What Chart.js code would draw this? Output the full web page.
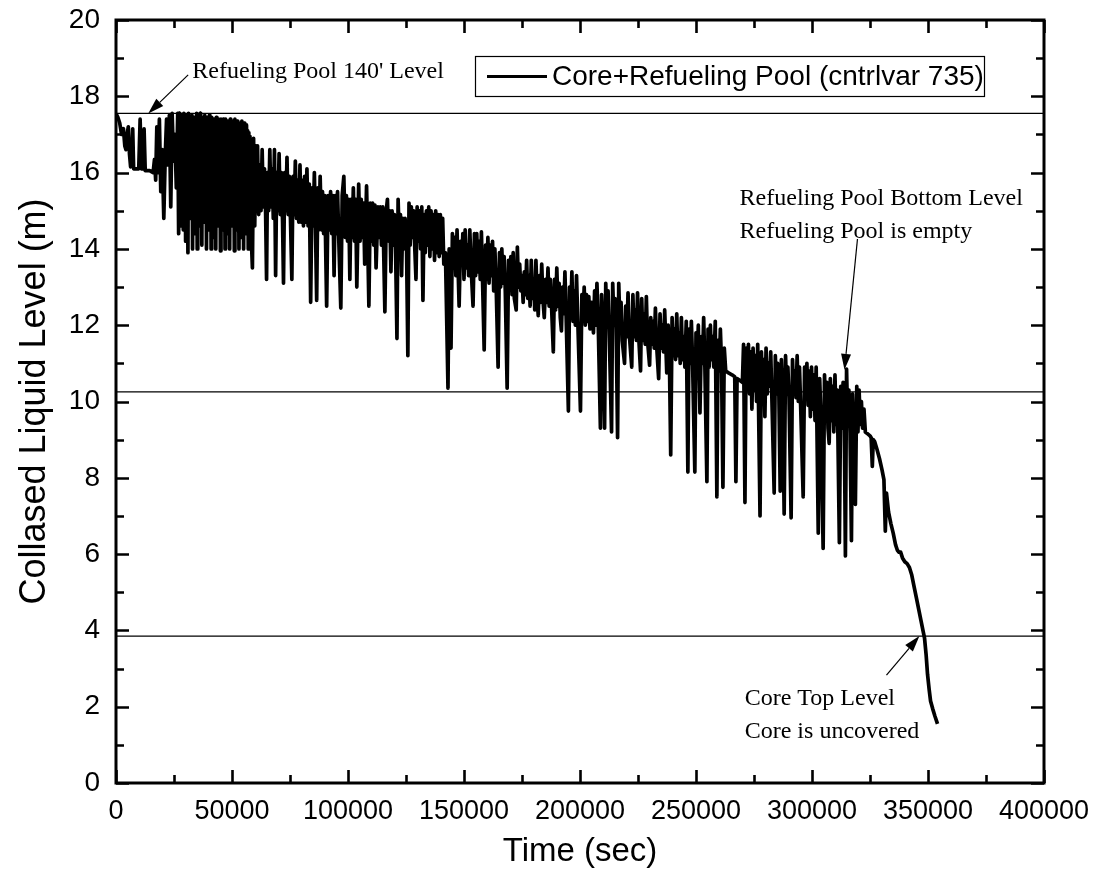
<!DOCTYPE html>
<html><head><meta charset="utf-8">
<script src="https://cdn.jsdelivr.net/npm/chart.js@4/dist/chart.umd.min.js"></script>
<style>html,body{margin:0;padding:0;background:#fff;}canvas{display:block;}</style>
</head><body>
<canvas id="c" width="1095" height="888"></canvas>
<script>
// ---------------- DATA ----------------
const seriesLabel = 'Core+Refueling Pool (cntrlvar 735)';
const xTitle = 'Time (sec)';
const yTitle = 'Collased Liquid Level (m)';
const xTickValues = [0, 50000, 100000, 150000, 200000, 250000, 300000, 350000, 400000];
const xMinorTicks = [25000, 75000, 125000, 175000, 225000, 275000, 325000, 375000];
const yTickValues = [0, 2, 4, 6, 8, 10, 12, 14, 16, 18, 20];
const yMinorTicks = [1, 3, 5, 7, 9, 11, 13, 15, 17, 19];
const refLevels = [17.55, 10.25, 3.85];

const timeSec = [
0,800,1600,2400,3200,3800,4300,4800,5300,5800,6300,6800,7200,7600,9800,10400,10900,11600,12100,12600,14500,16000,16600,17100,17600,18100,18700,19300,19900,20600,21200,21800,22400,23000,23600,24200,24800,25400,26000,26600,
27000,27250,27500,27750,28000,28250,28500,28750,29000,29250,29500,29750,30000,30250,30500,30750,31000,31250,31500,31750,32000,32250,32500,32750,33000,33250,33500,33750,34000,34250,34500,34750,35000,35250,35500,35750,36000,36250,36500,36750,37000,37250,37500,37750,38000,38250,38500,38750,39000,39250,39500,39750,40000,40250,40500,40750,41000,41250,41500,41750,42000,42250,42500,42750,43000,43250,43500,43750,44000,44250,44500,44750,45000,45250,45500,45750,46000,46250,46500,46750,47000,47250,47500,47750,48000,48250,48500,48750,49000,49250,49500,49750,50000,50250,50500,50750,51000,51250,51500,51750,52000,52250,52500,52750,53000,53250,53500,53750,54000,54250,54500,54750,55000,55250,55500,55750,56000,56250,56500,56750,57000,57250,57500,57750,58000,
58800,59300,59800,60300,60800,
61000,61500,62000,62500,63000,63500,64000,64500,64900,65300,65800,66300,66800,67300,67800,68300,68800,69300,69800,70300,70800,71300,71800,72200,72700,73200,73700,74200,74700,75200,75800,76300,76800,77300,77800,78300,78800,79300,79800,80300,80800,81300,81800,82300,82800,83300,83900,84500,85000,85500,86000,86500,87000,87500,88000,88500,89000,89500,90000,90800,91400,92000,
92500,93000,93500,94000,94500,95000,95500,96000,96900,97500,98200,98800,99300,99800,100300,100800,101300,101800,102300,102800,103300,103800,104600,105200,105700,106200,106700,107200,108000,108500,109000,109600,110100,110600,111100,111600,112100,112900,113400,113900,114400,115000,115900,116500,117000,117500,118000,118500,119000,119500,120000,120500,121100,121600,122100,122600,123100,123600,124100,124600,125200,125800,126300,126800,
127300,127800,128300,128800,129300,129800,130300,130800,131300,131800,132300,132800,133300,133800,134300,134800,135300,135800,136300,136800,137300,137800,138300,138800,139300,139800,140300,140800,141300,142000,143100,143600,144400,145000,145500,146000,146500,147000,147900,148500,149000,149500,150000,150500,151000,151500,152000,152500,153000,153900,154500,155000,155500,156000,156500,157000,157500,158700,159300,159800,160300,160800,161300,161800,162300,162800,163300,163800,164700,165300,165800,166300,166800,167300,167800,168600,169200,169700,170200,170700,171200,171700,172500,173000,173500,174000,174500,
175000,175500,176000,176500,177000,177500,178000,178500,179000,179500,180000,180500,181000,181500,182000,182500,183000,183500,184000,184600,185200,185700,186200,186700,187200,187800,188500,189000,189500,190000,190500,191000,191500,192000,192500,193000,193500,194000,195000,195500,196000,196500,197000,197500,198000,198500,199000,200200,200800,201300,201800,202300,202800,203300,203800,204300,205000,
205800,206300,206800,207300,207800,208800,209300,209800,210600,211100,211600,212100,212600,213600,214100,214600,215100,215600,216200,216700,217200,217700,218200,219200,219700,220200,220700,221200,222300,222800,223300,223800,224300,224800,225300,226100,226600,227100,227600,228100,228600,229100,230000,230500,231000,231500,232000,232500,233000,233900,234500,235000,235500,236000,236500,237400,238000,238500,239100,239700,240200,
240700,241200,241700,242200,242700,243200,243700,244200,244700,245200,245800,246500,247000,247500,248000,248500,249500,250000,250500,251000,251700,252300,252800,253300,253800,254700,255200,255700,256200,256700,257200,257700,258300,259000,259500,260000,260500,261000,261600,262200,
262800,264000,265500,266700,267200,267700,269000,270000,270500,271100,
271600,272100,272600,273100,273600,274100,274600,275100,275600,276100,276600,277600,278200,278700,279200,279700,280200,280700,281200,281700,282200,282700,283700,284200,284700,285200,285700,286300,286800,287300,288000,288600,289100,289600,290100,291000,291600,292100,292600,293100,293600,294100,294600,295100,296200,296800,
297300,297800,298300,298800,299300,299800,300300,300800,301300,301800,302700,303300,303800,304800,305400,305900,306400,306900,307400,307900,308400,308900,309400,309900,310400,310900,311800,312400,312900,313400,313900,314400,314900,315400,315900,316400,317000,317500,318000,318700,319300,319800,320300,320800,321300,
321800,322400,323000,324000,325000,325500,326000,326400,327000,328000,329100,330200,331000,331600,332100,333000,334000,335000,336000,336800,337500,338200,339000,340000,341000,342000,343000,344000,345000,346000,347000,348000,348500,349200,349800,350500,351100,352000,353000,354100
];

const level = [
17.55,17.45,17.3,17.0,17.15,16.7,16.6,17.0,17.2,16.5,16.15,16.2,17.15,16.1,16.1,17.4,16.1,16.1,17.15,16.05,16.05,16.0,16.35,15.8,17.2,16.0,17.4,15.5,16.6,14.8,16.4,17.4,16.2,17.5,15.1,17.55,16.3,17.0,15.6,17.55,
14.4,17.55,15.2,17.3, 14.6,17.5,15.8,17.2, 14.5,17.55,15.4,17.35, 14.2,17.5,15.9,17.2, 13.9,17.55,15.3,17.4, 14.8,17.3,15.7,17.5, 14.0,17.2,15.5,17.45, 14.4,17.3,15.9,17.55, 14.0,17.25,15.2,17.4, 14.6,17.55,15.8,17.3, 14.1,17.45,15.4,17.2, 14.7,17.5,15.9,17.3, 14.0,17.45,15.3,17.35, 14.5,17.5,15.7,17.25, 14.0,17.45,15.5,17.3, 14.3,17.4,15.9,17.3, 14.0,17.45,15.4,17.25, 14.6,17.4,15.8,17.35, 13.95,17.4,15.3,17.3, 14.5,17.4,15.9,17.25, 14.0,17.4,15.5,17.3, 14.4,17.35,15.8,17.3, 14.0,17.4,15.3,17.25, 14.6,17.35,15.9,17.3, 13.95,17.4,15.4,17.25, 14.5,17.35,15.8,17.3, 14.0,17.3,15.5,17.25, 14.3,17.35,15.9,17.2, 14.0,17.3,15.6,17.2, 14.4,17.25,15.7,17.1, 14.0,17.05,15.5,16.95, 14.8,
13.5,16.9,14.6,16.7,15.0,
16.7,14.9,16.2,15.0,16.6,15.1,16.1,14.9,13.2,16.0,15.0,16.6,15.1,16.1,14.8,16.6,13.3,16.0,15.0,16.5,14.9,16.0,14.7,13.1,16.0,15.0,16.4,14.9,15.9,14.8,13.2,15.9,14.9,16.3,14.8,15.8,14.7,16.2,14.7,15.8,14.6,15.9,14.7,16.1,14.6,15.7,12.6,15.6,14.6,16.0,14.5,12.65,15.6,14.5,15.9,14.5,15.5,14.4,15.4,12.5,15.4,14.5,
15.5,14.4,15.4,13.3,15.4,14.4,15.5,14.3,12.45,15.4,15.9,14.3,15.4,14.2,15.3,13.2,15.3,14.3,15.6,14.2,15.3,13.0,15.7,14.2,15.3,14.3,15.2,13.6,15.65,14.2,12.5,15.2,14.2,15.2,14.1,15.15,13.5,15.1,14.3,15.1,14.1,15.1,12.35,15.0,15.3,14.2,15.0,13.4,15.0,14.1,14.9,14.0,11.65,15.3,14.2,14.9,13.3,14.8,14.0,14.8,14.2,11.2,15.2,14.1,
15.1,14.3,15.0,14.0,13.2,15.1,14.2,15.0,14.0,15.1,12.65,14.9,13.9,15.0,14.1,15.1,13.8,15.0,14.0,14.9,13.7,15.0,13.9,14.9,13.8,14.9,13.9,14.8,13.6,13.9,10.35,14.0,11.4,14.4,13.5,14.3,13.3,14.5,12.5,14.2,13.6,14.4,13.2,14.5,13.5,14.1,13.3,14.5,13.6,12.5,14.4,13.3,14.4,13.4,14.2,13.2,14.45,11.35,14.1,13.2,14.3,13.1,14.1,13.3,14.2,12.9,14.0,13.2,10.9,13.9,13.0,14.0,13.1,13.8,12.9,10.35,13.7,13.0,13.8,12.8,13.9,12.7,12.4,14.05,13.0,13.6,12.9,
13.3,12.6,13.4,12.8,13.7,12.7,13.3,12.5,13.7,12.7,13.2,12.4,13.7,12.8,12.25,13.3,12.6,13.6,12.7,12.2,13.2,12.6,13.5,12.5,13.2,12.4,11.3,13.2,12.4,13.5,12.5,13.1,12.2,11.85,13.0,12.3,13.4,12.3,9.75,13.0,12.2,13.4,12.1,12.9,12.0,13.3,12.2,9.75,12.8,12.1,13.0,12.0,12.8,12.1,12.75,11.9,12.6,
11.8,12.9,12.0,13.1,12.2,9.3,12.8,12.1,9.3,13.1,12.0,12.9,11.8,9.2,13.1,12.1,12.7,11.9,9.05,13.1,12.0,12.6,11.6,11.0,12.5,11.7,12.85,11.8,10.9,12.8,11.7,12.4,11.6,12.85,11.7,10.8,12.7,11.6,12.3,11.5,12.75,11.6,10.95,12.2,11.5,12.1,11.4,12.45,11.5,10.6,12.3,11.4,12.0,11.3,12.4,10.75,12.0,11.3,8.6,12.2,11.2,
11.9,11.1,12.3,11.2,11.8,11.0,12.2,11.1,11.7,10.9,12.1,8.15,11.9,11.0,12.1,11.1,8.15,11.8,11.0,12.0,9.7,11.7,11.0,12.2,11.0,7.9,11.9,10.9,12.0,11.1,11.7,10.9,12.1,7.5,11.6,10.8,11.9,11.0,7.75,11.4,
10.8,10.75,10.7,10.65,7.9,10.6,10.55,10.5,11.5,7.35,
11.4,10.4,11.5,10.2,11.3,9.8,11.4,10.3,11.2,10.0,11.5,7.0,11.3,10.3,11.1,9.6,11.4,10.2,11.0,10.4,11.3,10.1,7.6,11.2,10.2,11.0,10.3,7.65,11.1,10.3,7.05,11.2,10.2,10.9,10.1,6.95,11.1,10.2,10.8,10.1,11.2,10.0,10.9,9.9,7.5,10.9,
10.1,11.0,9.9,10.8,9.6,10.9,9.8,10.7,9.5,10.9,6.55,10.6,9.7,6.15,10.7,9.5,10.5,9.3,8.9,10.6,9.5,10.4,9.2,10.7,9.4,10.3,6.3,10.4,9.3,10.5,9.6,5.95,10.85,9.4,10.3,9.2,6.35,10.2,9.3,7.3,10.4,9.2,10.3,9.4,10.0,
9.3,9.8,9.2,9.15,9.1,9.05,8.3,9.0,8.95,8.75,8.5,8.2,7.95,6.6,7.6,7.1,6.8,6.55,6.25,6.1,6.05,6.05,5.9,5.8,5.75,5.65,5.45,5.15,4.85,4.55,4.25,3.95,3.8,3.35,2.85,2.45,2.15,1.95,1.75,1.55
];

// annotation texts (placed in data coordinates)
const notes = [
  { lines: ["Refueling Pool 140' Level"], at: [32900, 18.48], tail: [31100, 18.56], tip: [13900, 17.55] },
  { lines: ["Refueling Pool Bottom Level", "Refueling Pool is empty"], at: [268800, 15.15], tail: [319600, 14.26], tip: [314000, 10.83] },
  { lines: ["Core Top Level", "Core is uncovered"], at: [271000, 2.04], tail: [332100, 2.83], tip: [346300, 3.85] }
];

// ---------------- CHART ----------------
if (timeSec.length !== level.length) console.error('length mismatch', timeSec.length, level.length);
const mainData = timeSec.map((t, i) => ({ x: t, y: level[i] }));
const refSets = refLevels.map(v => ({
  label: 'ref', data: [{ x: xTickValues[0], y: v }, { x: xTickValues[xTickValues.length - 1], y: v }],
  borderColor: '#000', borderWidth: 1.3, pointRadius: 0, tension: 0
}));

const SANS = "'Liberation Sans', Arial, sans-serif";
const SERIF = "'Liberation Serif', 'Times New Roman', serif";

const framePlugin = {
  id: 'frame',
  afterDraw(chart) {
    const { ctx, chartArea: a, scales: { x, y } } = chart;
    ctx.save();
    ctx.strokeStyle = '#000';
    ctx.lineWidth = 2.6;
    ctx.beginPath();
    const tick = (vals, len) => {
      vals.forEach(v => {
        const px = Math.round(x.getPixelForValue(v)) + 0.5;
        ctx.moveTo(px, a.bottom); ctx.lineTo(px, a.bottom - len);
        ctx.moveTo(px, a.top); ctx.lineTo(px, a.top + len);
      });
    };
    const ytick = (vals, len) => {
      vals.forEach(v => {
        const py = Math.round(y.getPixelForValue(v)) + 0.5;
        ctx.moveTo(a.left, py); ctx.lineTo(a.left + len, py);
        ctx.moveTo(a.right, py); ctx.lineTo(a.right - len, py);
      });
    };
    tick(xTickValues, 13); tick(xMinorTicks, 8);
    ytick(yTickValues, 13); ytick(yMinorTicks, 8);
    ctx.stroke();
    ctx.lineWidth = 3;
    ctx.strokeRect(a.left, a.top, a.right - a.left, a.bottom - a.top);

    // legend box
    const ds = chart.data.datasets[0];
    ctx.lineWidth = 1.2;
    ctx.strokeRect(475.5, 56.5, 509, 40);
    ctx.lineWidth = 3.2;
    ctx.beginPath(); ctx.moveTo(487, 76.5); ctx.lineTo(547, 76.5); ctx.stroke();
    ctx.fillStyle = '#000';
    ctx.font = '28px ' + SANS;
    ctx.textBaseline = 'middle';
    ctx.textAlign = 'left';
    ctx.fillText(ds.label, 552, 77);

    // annotations
    ctx.font = '24px ' + SERIF;
    ctx.textBaseline = 'alphabetic';
    notes.forEach(n => {
      const tx = x.getPixelForValue(n.at[0]), ty = y.getPixelForValue(n.at[1]);
      n.lines.forEach((s, i) => ctx.fillText(s, tx, ty + i * 33));
      const x0 = x.getPixelForValue(n.tail[0]), y0 = y.getPixelForValue(n.tail[1]);
      const x1 = x.getPixelForValue(n.tip[0]), y1 = y.getPixelForValue(n.tip[1]);
      const ang = Math.atan2(y1 - y0, x1 - x0);
      const hl = 16, hw = 5;
      const bx = x1 - hl * Math.cos(ang), by = y1 - hl * Math.sin(ang);
      ctx.lineWidth = 1.2;
      ctx.beginPath(); ctx.moveTo(x0, y0); ctx.lineTo(bx, by); ctx.stroke();
      ctx.beginPath();
      ctx.moveTo(x1, y1);
      ctx.lineTo(bx + hw * Math.sin(ang), by - hw * Math.cos(ang));
      ctx.lineTo(bx - hw * Math.sin(ang), by + hw * Math.cos(ang));
      ctx.closePath(); ctx.fill();
    });
    ctx.restore();
  }
};

new Chart(document.getElementById('c').getContext('2d'), {
  type: 'line',
  data: {
    datasets: [
      { label: seriesLabel, data: mainData, borderColor: '#000', borderWidth: 3.7, pointRadius: 0, tension: 0, borderJoinStyle: 'round' },
      ...refSets
    ]
  },
  options: {
    responsive: false, animation: false, devicePixelRatio: 1,
    layout: { padding: { top: 20, right: 51, bottom: 0, left: 0 } },
    plugins: { legend: { display: false }, tooltip: { enabled: false } },
    scales: {
      x: {
        type: 'linear', min: xTickValues[0], max: xTickValues[xTickValues.length - 1],
        afterFit(s) { s.height = 105; s.paddingLeft = 0; s.paddingRight = 0; },
        afterBuildTicks(s) { s.ticks = xTickValues.map(v => ({ value: v })); },
        ticks: { callback: v => String(v), font: { family: SANS, size: 27 }, color: '#000', padding: 12, maxRotation: 0, autoSkip: false },
        grid: { display: false, drawTicks: false }, border: { display: false },
        title: { display: true, text: xTitle, font: { family: SANS, size: 33 }, color: '#000', padding: { top: 0, bottom: 16 } }
      },
      y: {
        type: 'linear', min: yTickValues[0], max: yTickValues[yTickValues.length - 1],
        afterFit(s) { s.width = 116; s.paddingTop = 0; s.paddingBottom = 0; },
        afterBuildTicks(s) { s.ticks = yTickValues.map(v => ({ value: v })); },
        ticks: { callback: v => String(v), font: { family: SANS, size: 28 }, color: '#000', padding: 16, autoSkip: false },
        grid: { display: false, drawTicks: false }, border: { display: false },
        title: { display: true, text: yTitle, font: { family: SANS, size: 36 }, color: '#000', padding: { top: 13, bottom: 0 } }
      }
    }
  },
  plugins: [framePlugin]
});
</script>
</body></html>
